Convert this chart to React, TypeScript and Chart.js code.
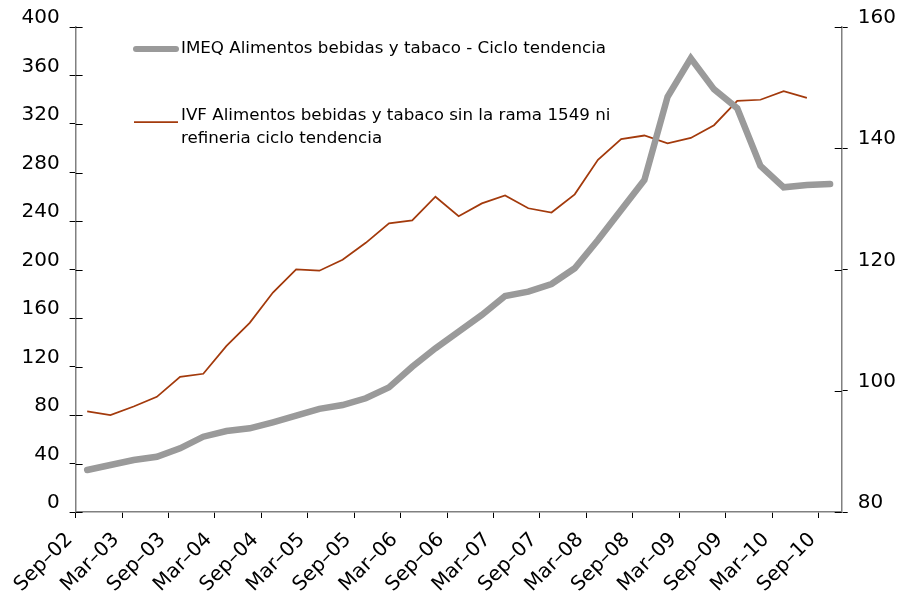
import React, { useEffect, useRef } from "react";
import { Chart, registerables } from "chart.js";

Chart.register(...registerables);

// Quarterly categories (33 quarters: Sep-02 .. Sep-10)
const quarters = [
  "Sep-02", "Dec-02", "Mar-03", "Jun-03", "Sep-03", "Dec-03", "Mar-04", "Jun-04",
  "Sep-04", "Dec-04", "Mar-05", "Jun-05", "Sep-05", "Dec-05", "Mar-06", "Jun-06",
  "Sep-06", "Dec-06", "Mar-07", "Jun-07", "Sep-07", "Dec-07", "Mar-08", "Jun-08",
  "Sep-08", "Dec-08", "Mar-09", "Jun-09", "Sep-09", "Dec-09", "Mar-10", "Jun-10",
  "Sep-10",
];

const tickLabels = [
  "Sep–02", "Mar–03", "Sep–03", "Mar–04", "Sep–04", "Mar–05", "Sep–05", "Mar–06",
  "Sep–06", "Mar–07", "Sep–07", "Mar–08", "Sep–08", "Mar–09", "Sep–09", "Mar–10",
  "Sep–10",
];

// IMEQ (left axis)
const imeq = [
  34.6, 38.8, 42.9, 45.6, 52.5, 62.1, 66.8, 69.0, 74.0, 79.4, 85.1, 88.2, 93.8,
  102.8, 119.8, 135.0, 148.7, 162.5, 178.1, 181.7, 188.0, 201.0, 224.3, 249.1,
  273.8, 342.5, 374.2, 348.6, 333.0, 285.4, 267.8, 269.7, 270.5,
];

// IVF (right axis)
const ivf = [
  96.6, 96.0, 97.4, 99.0, 102.3, 102.8, 107.4, 111.2, 116.2, 120.0, 119.8, 121.6,
  124.4, 127.6, 128.1, 132.0, 128.8, 130.9, 132.2, 130.1, 129.4, 132.4, 138.1,
  141.5, 142.1, 140.8, 141.7, 143.8, 147.8, 148.0, 149.4, 148.3,
];

const legendImeq = "IMEQ Alimentos bebidas y tabaco - Ciclo tendencia";
const legendIvf = [
  "IVF Alimentos bebidas y tabaco sin la rama 1549 ni",
  "refineria ciclo tendencia",
];

const GRAY = "#9a9a9a";
const RED = "#a33a0c";
const FONT = '"DejaVu Sans", Verdana, sans-serif';

const legendPlugin = {
  id: "customLegend",
  afterDraw(chart: any) {
    const ctx = chart.ctx;
    ctx.save();
    ctx.lineCap = "round";
    ctx.strokeStyle = GRAY;
    ctx.lineWidth = 6;
    ctx.beginPath();
    ctx.moveTo(136, 49);
    ctx.lineTo(176, 49);
    ctx.stroke();
    ctx.lineCap = "butt";
    ctx.strokeStyle = RED;
    ctx.lineWidth = 1.75;
    ctx.beginPath();
    ctx.moveTo(134, 122);
    ctx.lineTo(178, 122);
    ctx.stroke();
    ctx.fillStyle = "#000";
    ctx.font = `16.7px ${FONT}`;
    ctx.textBaseline = "middle";
    ctx.textAlign = "left";
    ctx.fillText(legendImeq, 181, 49);
    ctx.fillText(legendIvf[0], 181, 116);
    ctx.fillText(legendIvf[1], 181, 139);
    ctx.restore();
  },
};

const crossTickPlugin = {
  id: "crossTicks",
  afterDraw(chart: any) {
    const ctx = chart.ctx;
    ctx.save();
    ctx.strokeStyle = "#000";
    ctx.lineWidth = 1;
    for (const id of ["y", "y1"]) {
      const s = chart.scales[id];
      const x0 = id === "y" ? s.right : s.left;
      const dir = id === "y" ? 1 : -1;
      for (const t of s.ticks) {
        const y = Math.round(s.getPixelForValue(t.value)) + 0.5;
        ctx.beginPath();
        ctx.moveTo(x0, y);
        ctx.lineTo(x0 + dir * 7, y);
        ctx.stroke();
      }
    }
    ctx.restore();
  },
};

export default function App() {
  const ref = useRef<HTMLCanvasElement>(null);

  useEffect(() => {
    if (!ref.current) return;
    const chart = new Chart(ref.current, {
      type: "line",
      data: {
        datasets: [
          {
            label: legendImeq,
            data: imeq.map((v, i) => ({ x: i + 0.5, y: v })),
            borderColor: GRAY,
            backgroundColor: GRAY,
            borderWidth: 6.5,
            borderCapStyle: "round",
            pointRadius: 0,
            yAxisID: "y",
            tension: 0,
          },
          {
            label: legendIvf.join(" "),
            data: ivf.map((v, i) => ({ x: i + 0.5, y: v })),
            borderColor: RED,
            backgroundColor: RED,
            borderWidth: 1.75,
            pointRadius: 0,
            yAxisID: "y1",
            tension: 0,
          },
        ],
      },
      options: {
        responsive: false,
        animation: false,
        layout: { padding: { top: 27, left: 0, right: 0, bottom: 0 } },
        plugins: {
          legend: { display: false },
          tooltip: { enabled: false },
        },
        scales: {
          x: {
            type: "linear",
            min: 0,
            max: quarters.length,
            afterBuildTicks: (s: any) => {
              s.ticks = tickLabels.map((_, i) => ({ value: i * 2 }));
            },
            afterFit: (s: any) => {
              s.height = 82;
            },
            ticks: {
              includeBounds: false,
              autoSkip: false,
              maxRotation: 45,
              minRotation: 45,
              padding: 10,
              labelOffset: -6,
              color: "#000",
              font: { family: FONT, size: 20 },
              callback: (v: any) => tickLabels[Math.round(Number(v) / 2)] ?? "",
            },
            grid: {
              drawOnChartArea: false,
              drawTicks: true,
              tickLength: 6,
              color: "#000",
            },
            border: { color: "#808080", width: 1.5 },
          },
          y: {
            position: "left",
            min: 0,
            max: 400,
            afterFit: (s: any) => {
              s.width = 75.6;
            },
            ticks: {
              stepSize: 40,
              padding: 10,
              labelOffset: -9,
              color: "#000",
              font: { family: FONT, size: 20 },
            },
            grid: {
              drawOnChartArea: false,
              drawTicks: true,
              tickLength: 6,
              color: "#000",
            },
            border: { color: "#808080", width: 1.5 },
          },
          y1: {
            position: "right",
            min: 80,
            max: 160,
            afterFit: (s: any) => {
              s.width = 58.3;
            },
            ticks: {
              stepSize: 20,
              padding: 10,
              labelOffset: -9,
              color: "#000",
              font: { family: FONT, size: 20 },
            },
            grid: {
              drawOnChartArea: false,
              drawTicks: true,
              tickLength: 6,
              color: "#000",
            },
            border: { color: "#808080", width: 1.5 },
          },
        },
      },
      plugins: [legendPlugin, crossTickPlugin],
    } as any);
    return () => chart.destroy();
  }, []);

  return (
    <div
      style={{
        position: "absolute",
        left: 0,
        top: 0,
        width: 900,
        height: 594,
        background: "#fff",
      }}
    >
      <canvas ref={ref} width={900} height={594} style={{ display: "block" }} />
    </div>
  );
}
